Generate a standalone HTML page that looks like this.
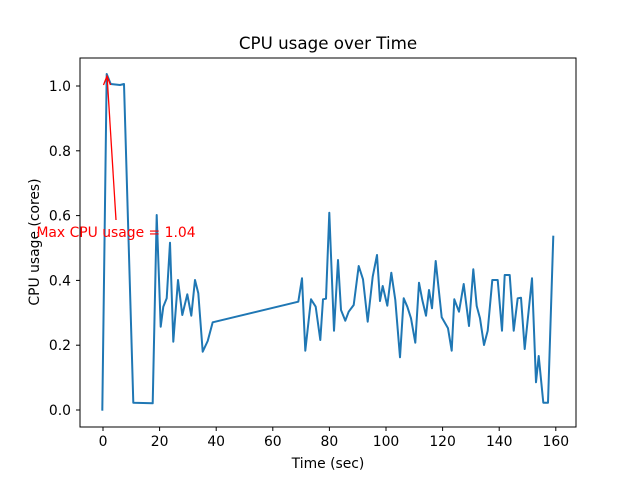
<!DOCTYPE html>
<html><head><style>body{margin:0;background:#fff}svg{display:block}text{font-family:"DejaVu Sans","Liberation Sans",sans-serif}</style></head><body>
<svg width="640" height="480" xmlns="http://www.w3.org/2000/svg">
<rect width="640" height="480" fill="#fff"/>
<text x="328" y="49" font-size="16.7" text-anchor="middle">CPU usage over Time</text>
<polyline fill="none" stroke="#1f77b4" stroke-width="2" stroke-linejoin="round" points="102.3,410.7 106.7,74 110.7,84 120,85 124,84 133.3,402.7 152.7,403.3 156.7,215 160.7,326.7 163.3,306.7 166.7,298.3 170,242.7 173.3,341.7 178,280 182.3,315 187.3,294.3 191.3,315.7 195,280 198.3,293.3 202.7,351.7 207.7,341 212.7,322.3 298.3,301.7 302,278.3 305.3,350.7 311,299.3 315.7,306.7 320.3,340 323,299.3 326,298.7 329.3,212.7 334,330.7 338,260 341,310 345.3,320.7 348.7,311.7 353.7,305 358.7,266 363,279.3 367.7,321.7 372.7,276.7 377,255 380,301 382.7,286 387.3,305.7 391.3,272.7 395.3,300 400,357.3 403.7,298.3 407.3,306.7 411,318.3 415.3,342.7 419,282.7 422.3,300 426,315.7 429,290 432,308.3 435.7,261 441.7,317.3 448,328.3 451.7,350.7 454.3,299.3 459,311.7 463.7,284 469,326 473.3,269.3 476.7,306 480,318.3 484,345 487.7,330.7 492.3,280 497.7,280 502,330.7 504.7,275 509.7,275 513.7,330.7 517.7,298.3 521,297.7 524.7,349 532,278.3 536,382.3 538.7,356 543.3,402.7 548,402.7 553.3,235.7"/>
<rect x="80" y="58" width="496" height="369" fill="none" stroke="#000" stroke-width="1"/>
<g stroke="#000">
<line x1="103" y1="427" x2="103" y2="431"/><line x1="159.6" y1="427" x2="159.6" y2="431"/><line x1="216.2" y1="427" x2="216.2" y2="431"/><line x1="272.8" y1="427" x2="272.8" y2="431"/><line x1="329.4" y1="427" x2="329.4" y2="431"/><line x1="386" y1="427" x2="386" y2="431"/><line x1="442.6" y1="427" x2="442.6" y2="431"/><line x1="499.2" y1="427" x2="499.2" y2="431"/><line x1="555.8" y1="427" x2="555.8" y2="431"/>
<line x1="76" y1="410" x2="80" y2="410"/><line x1="76" y1="345.2" x2="80" y2="345.2"/><line x1="76" y1="280.4" x2="80" y2="280.4"/><line x1="76" y1="215.6" x2="80" y2="215.6"/><line x1="76" y1="150.8" x2="80" y2="150.8"/><line x1="76" y1="86" x2="80" y2="86"/>
</g>
<g font-size="13.9" text-anchor="middle">
<text x="103" y="446">0</text><text x="159.6" y="446">20</text><text x="216.2" y="446">40</text><text x="272.8" y="446">60</text><text x="329.4" y="446">80</text><text x="386" y="446">100</text><text x="442.6" y="446">120</text><text x="499.2" y="446">140</text><text x="555.8" y="446">160</text>
</g>
<g font-size="13.9" text-anchor="end">
<text x="71" y="415">0.0</text><text x="71" y="350.2">0.2</text><text x="71" y="285.4">0.4</text><text x="71" y="220.6">0.6</text><text x="71" y="155.8">0.8</text><text x="71" y="91">1.0</text>
</g>
<text x="328" y="468" font-size="13.9" text-anchor="middle">Time (sec)</text>
<text transform="translate(39,242) rotate(-90)" font-size="13.9" text-anchor="middle">CPU usage (cores)</text>
<line x1="116" y1="220" x2="107.2" y2="78" stroke="red" stroke-width="1.3"/>
<polyline points="103.5,85 107,76 110.5,85" fill="none" stroke="red" stroke-width="1.3"/>
<text x="116" y="237" font-size="13.9" fill="red" text-anchor="middle">Max CPU usage = 1.04</text>
</svg>
</body></html>
